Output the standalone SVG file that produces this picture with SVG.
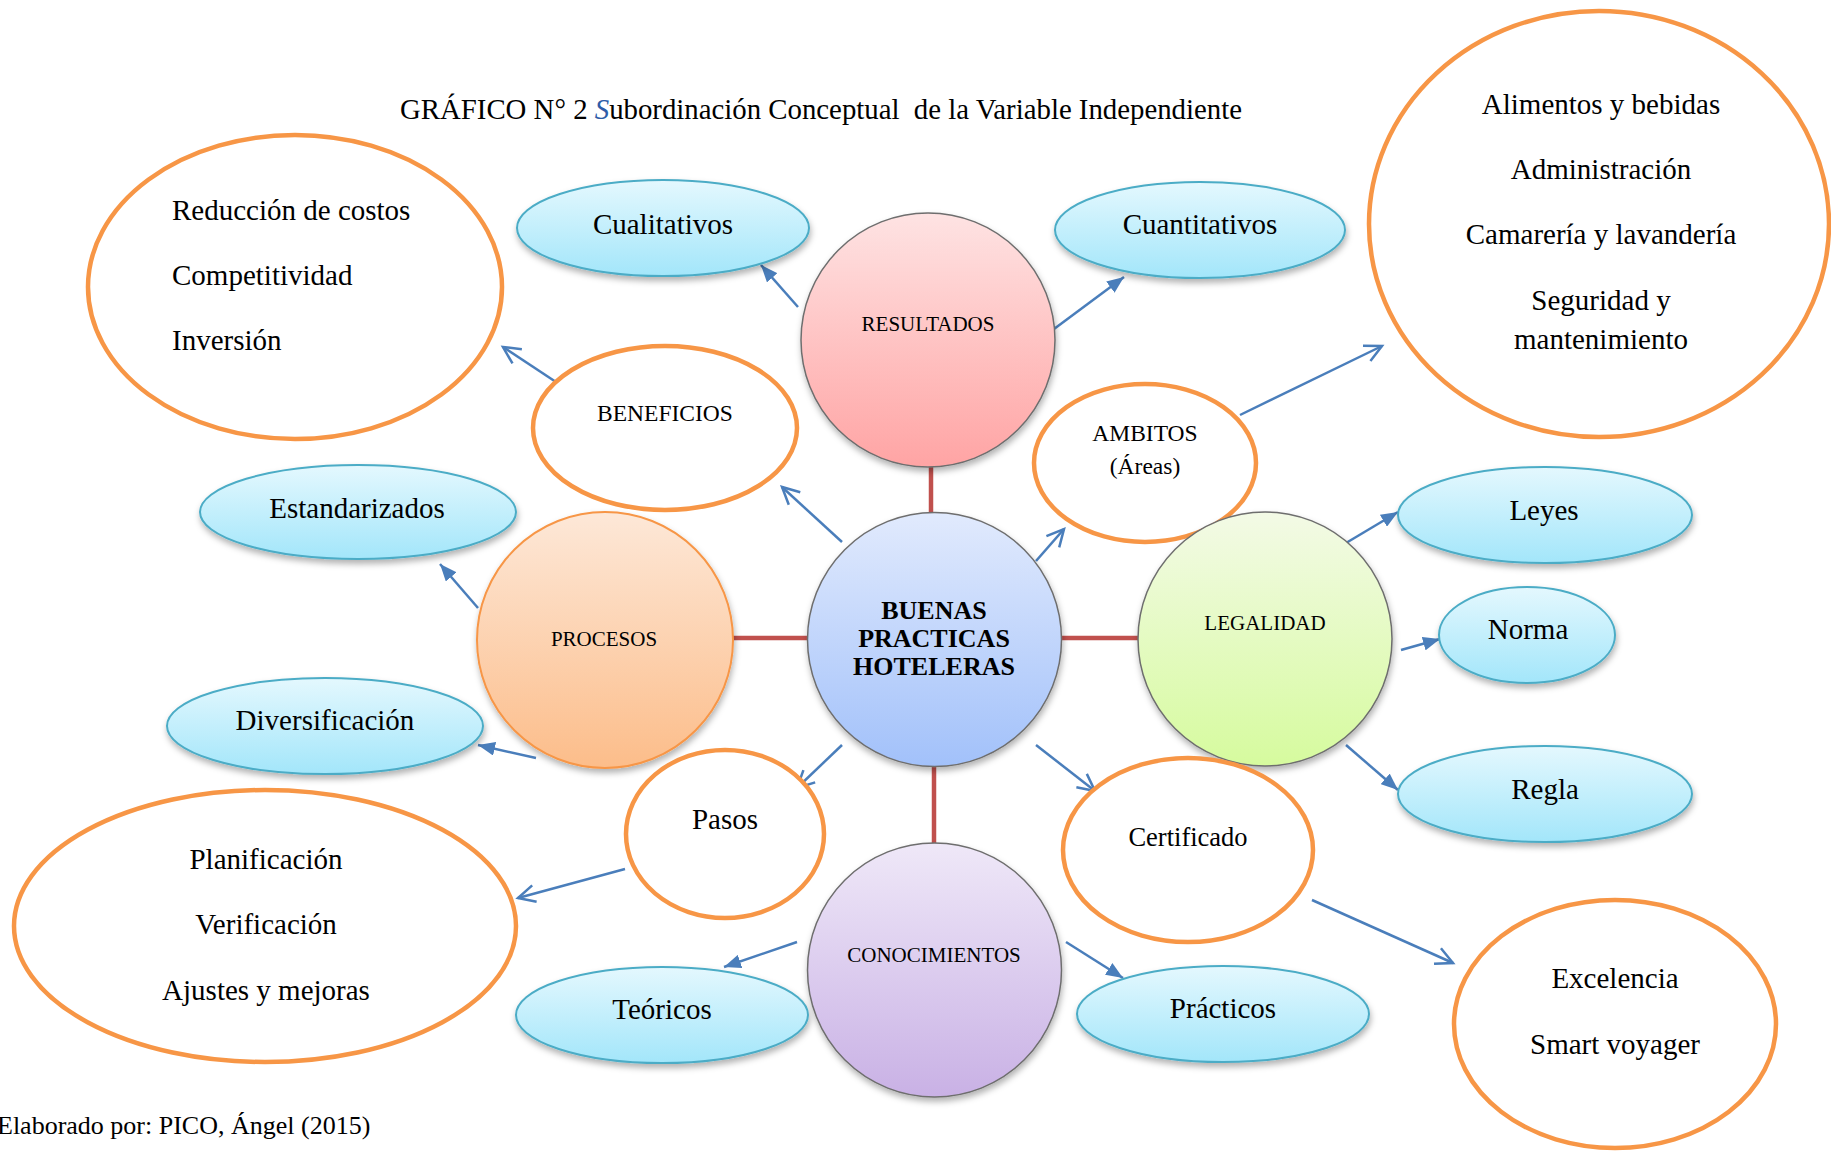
<svg xmlns="http://www.w3.org/2000/svg" width="1831" height="1151" viewBox="0 0 1831 1151">
<defs>
<linearGradient id="gCyan" x1="0" y1="0" x2="0" y2="1"><stop offset="0" stop-color="#E4F8FE"/><stop offset="1" stop-color="#A3E6FA"/></linearGradient>
<linearGradient id="gRed" x1="0" y1="0" x2="0" y2="1"><stop offset="0" stop-color="#FEE3E3"/><stop offset="1" stop-color="#FFA4A4"/></linearGradient>
<linearGradient id="gBlue" x1="0" y1="0" x2="0" y2="1"><stop offset="0" stop-color="#E1EAFD"/><stop offset="1" stop-color="#A2C1FA"/></linearGradient>
<linearGradient id="gOrange" x1="0" y1="0" x2="0" y2="1"><stop offset="0" stop-color="#FDE8D8"/><stop offset="1" stop-color="#FCBD8A"/></linearGradient>
<linearGradient id="gGreen" x1="0" y1="0" x2="0" y2="1"><stop offset="0" stop-color="#F3FAE6"/><stop offset="1" stop-color="#D6FB9E"/></linearGradient>
<linearGradient id="gPurple" x1="0" y1="0" x2="0" y2="1"><stop offset="0" stop-color="#EFE8F8"/><stop offset="1" stop-color="#C9B1E5"/></linearGradient>
<filter id="sh" x="-20%" y="-20%" width="140%" height="150%"><feDropShadow dx="1" dy="4" stdDeviation="3" flood-color="#000" flood-opacity="0.3"/></filter>
<marker id="af" markerUnits="userSpaceOnUse" markerWidth="18" markerHeight="14" refX="17" refY="7" orient="auto"><path d="M0,0 L17,7 L0,14 z" fill="#4A7EBB"/></marker>
<marker id="ao" markerUnits="userSpaceOnUse" markerWidth="22" markerHeight="20" refX="18" refY="10" orient="auto" overflow="visible"><path d="M1,1.5 L18,10 L1,18.5" fill="none" stroke="#4A7EBB" stroke-width="2.5"/></marker>
<style>
text{font-family:"Liberation Serif","Times New Roman",serif;fill:#000;text-anchor:middle}
.t29{font-size:29px}
.cap{font-size:21px}
.cap2{font-size:23.5px}
.cy{fill:url(#gCyan);stroke:#4BACC6;stroke-width:2;filter:url(#sh)}
.or{fill:#fff;stroke:#F79646;stroke-width:4.5}
.circ{stroke:#6E6E6E;stroke-width:1.5;filter:url(#sh)}
.red{stroke:#C0504D;stroke-width:4.5;fill:none}
.bl{stroke:#4A7EBB;stroke-width:2.5;fill:none}
.f{marker-end:url(#af)}
.o{marker-end:url(#ao)}
</style>
</defs>
<rect width="1831" height="1151" fill="#fff"/>

<g id="title"><text x="400" y="119" style="text-anchor:start;font-size:28.5px" textLength="842" lengthAdjust="spacingAndGlyphs">GRÁFICO N° 2 <tspan fill="#2E5DA8" font-style="italic">S</tspan>ubordinación Conceptual&#160; de la Variable Independiente</text></g>

<g id="connectors">
<line class="red" x1="931" y1="466" x2="931" y2="513"/>
<line class="red" x1="732" y1="638" x2="809" y2="638"/>
<line class="red" x1="1060" y1="638" x2="1138" y2="638"/>
<line class="red" x1="934" y1="766" x2="934" y2="844"/>
<line class="bl f" x1="798" y1="307" x2="761" y2="265"/>
<line class="bl f" x1="1054" y1="329" x2="1124" y2="277"/>
<line class="bl o" x1="842" y1="542" x2="782" y2="487"/>
<line class="bl o" x1="556" y1="382" x2="503" y2="347"/>
<line class="bl f" x1="478" y1="608" x2="440" y2="564"/>
<line class="bl f" x1="536" y1="758" x2="478" y2="745"/>
<line class="bl o" x1="842" y1="745" x2="797" y2="788"/>
<line class="bl o" x1="625" y1="869" x2="518" y2="898"/>
<line class="bl f" x1="797" y1="942" x2="724" y2="967"/>
<line class="bl f" x1="1066" y1="942" x2="1123" y2="978"/>
<line class="bl o" x1="1036" y1="745" x2="1095" y2="791"/>
<line class="bl o" x1="1312" y1="900" x2="1453" y2="963"/>
<line class="bl o" x1="1036" y1="561" x2="1064" y2="529"/>
<line class="bl o" x1="1240" y1="415" x2="1382" y2="346"/>
<line class="bl f" x1="1346" y1="543" x2="1398" y2="512"/>
<line class="bl f" x1="1401" y1="650" x2="1440" y2="639"/>
<line class="bl f" x1="1346" y1="745" x2="1398" y2="790"/>
</g>

<g id="n-beneficios-list"><ellipse class="or" cx="295" cy="287" rx="207" ry="152"/>
<text class="t29" x="172" y="220" style="text-anchor:start">Reducción de costos</text>
<text class="t29" x="172" y="285" style="text-anchor:start">Competitividad</text>
<text class="t29" x="172" y="350" style="text-anchor:start">Inversión</text></g>

<g id="n-cualitativos"><ellipse class="cy" cx="663" cy="228" rx="146" ry="48"/><text class="t29" x="663" y="234">Cualitativos</text></g>
<g id="n-cuantitativos"><ellipse class="cy" cx="1200" cy="230" rx="145" ry="48"/><text class="t29" x="1200" y="234">Cuantitativos</text></g>

<g id="n-ambitos-list"><ellipse class="or" cx="1599" cy="224" rx="230" ry="213"/>
<text class="t29" x="1601" y="114">Alimentos y bebidas</text>
<text class="t29" x="1601" y="179">Administración</text>
<text class="t29" x="1601" y="244">Camarería y lavandería</text>
<text class="t29" x="1601" y="310">Seguridad y</text>
<text class="t29" x="1601" y="349">mantenimiento</text></g>

<g id="n-resultados"><circle class="circ" cx="928" cy="340" r="127" fill="url(#gRed)"/><text class="cap" x="928" y="331">RESULTADOS</text></g>

<g id="n-beneficios"><ellipse class="or" cx="665" cy="428" rx="132" ry="82"/><text class="cap2" x="665" y="421">BENEFICIOS</text></g>

<g id="n-ambitos"><ellipse class="or" cx="1145" cy="463" rx="111" ry="79"/><text class="cap2" x="1145" y="441">AMBITOS</text><text class="cap2" x="1145" y="474">(Áreas)</text></g>

<g id="n-estandarizados"><ellipse class="cy" cx="358" cy="512" rx="158" ry="47"/><text class="t29" x="357" y="518">Estandarizados</text></g>
<g id="n-diversificacion"><ellipse class="cy" cx="325" cy="726" rx="158" ry="48"/><text class="t29" x="325" y="730">Diversificación</text></g>

<g id="n-procesos"><circle cx="605" cy="640" r="128" fill="url(#gOrange)" stroke="#F79646" stroke-width="2" filter="url(#sh)"/><text class="cap" x="604" y="646">PROCESOS</text></g>

<g id="n-buenas"><circle class="circ" cx="934.5" cy="639.5" r="127" fill="url(#gBlue)"/>
<text x="934" y="619" style="font-size:26px;font-weight:bold">BUENAS</text>
<text x="934" y="647" style="font-size:26px;font-weight:bold">PRACTICAS</text>
<text x="934" y="675" style="font-size:26px;font-weight:bold">HOTELERAS</text></g>

<g id="n-legalidad"><circle class="circ" cx="1265" cy="639" r="127" fill="url(#gGreen)"/><text class="cap" x="1265" y="630">LEGALIDAD</text></g>

<g id="n-leyes"><ellipse class="cy" cx="1545" cy="515" rx="147" ry="48"/><text class="t29" x="1544" y="520">Leyes</text></g>
<g id="n-norma"><ellipse class="cy" cx="1527" cy="635" rx="88" ry="48"/><text class="t29" x="1528" y="639">Norma</text></g>
<g id="n-regla"><ellipse class="cy" cx="1545" cy="794" rx="147" ry="48"/><text class="t29" x="1545" y="799">Regla</text></g>

<g id="n-pasos"><ellipse class="or" cx="725" cy="834" rx="99" ry="84"/><text class="t29" x="725" y="829">Pasos</text></g>

<g id="n-pasos-list"><ellipse class="or" cx="265" cy="926" rx="251" ry="136"/>
<text class="t29" x="266" y="869">Planificación</text>
<text class="t29" x="266" y="934">Verificación</text>
<text class="t29" x="266" y="1000">Ajustes y mejoras</text></g>

<g id="n-certificado"><ellipse class="or" cx="1188" cy="850" rx="125" ry="92"/><text x="1188" y="846" style="font-size:26.5px">Certificado</text></g>

<g id="n-conocimientos"><circle class="circ" cx="934.5" cy="970" r="127" fill="url(#gPurple)"/><text class="cap" x="934" y="962">CONOCIMIENTOS</text></g>

<g id="n-teoricos"><ellipse class="cy" cx="662" cy="1015" rx="146" ry="48"/><text class="t29" x="662" y="1019">Teóricos</text></g>
<g id="n-practicos"><ellipse class="cy" cx="1223" cy="1014" rx="146" ry="48"/><text class="t29" x="1223" y="1018">Prácticos</text></g>

<g id="n-certificado-list"><ellipse class="or" cx="1615" cy="1024" rx="161" ry="124"/>
<text class="t29" x="1615" y="988">Excelencia</text>
<text class="t29" x="1615" y="1054">Smart voyager</text></g>

<g id="footer"><text x="-3" y="1134" style="text-anchor:start;font-size:26px">Elaborado por: PICO, Ángel (2015)</text></g>
</svg>
